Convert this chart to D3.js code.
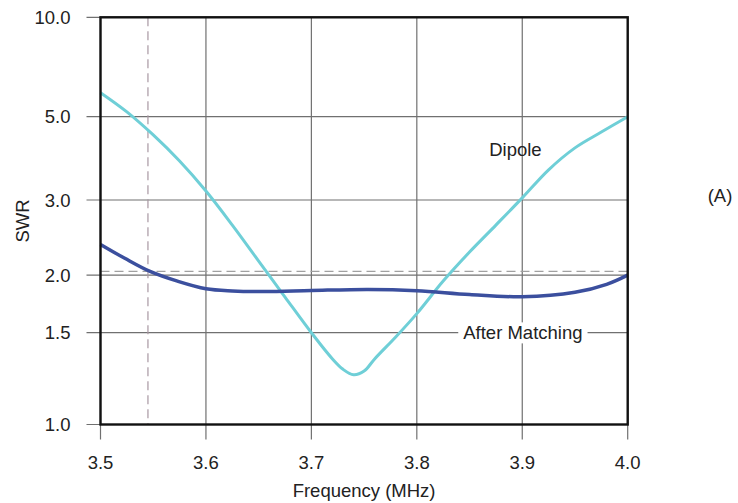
<!DOCTYPE html>
<html>
<head>
<meta charset="utf-8">
<script src="https://cdn.jsdelivr.net/npm/d3@7"></script>
<style>
  body { margin: 0; background: #fff; }
  text { font-family: "Liberation Sans", Arial, sans-serif; fill: #222; }
</style>
</head>
<body>
<div id="chart"></div>
<script>
// ---------------- data ----------------
var dipoleFreq = [3.500, 3.525, 3.550, 3.575, 3.600, 3.625, 3.650, 3.675, 3.700, 3.720, 3.730, 3.740,
                  3.750, 3.760, 3.780, 3.800, 3.825, 3.850, 3.875, 3.900, 3.925, 3.950, 3.975, 4.000];
var dipoleSwr  = [5.91, 5.17, 4.47, 3.81, 3.17, 2.62, 2.157, 1.792, 1.50, 1.336, 1.276, 1.246,
                  1.266, 1.336, 1.472, 1.65, 1.941, 2.265, 2.62, 3.04, 3.61, 4.13, 4.55, 5.0];

var matchFreq = [3.500, 3.523, 3.547, 3.573, 3.600, 3.625, 3.656, 3.700, 3.754, 3.800, 3.850, 3.900, 3.950, 3.980, 4.000];
var matchSwr  = [2.36, 2.19, 2.04, 1.94, 1.868, 1.848, 1.842, 1.852, 1.862, 1.85, 1.815, 1.795, 1.835, 1.91, 2.0];

var xTicks = [3.5, 3.6, 3.7, 3.8, 3.9, 4.0];
var yTicks = [1.0, 1.5, 2.0, 3.0, 5.0, 10.0];
// fraction of plot height for each y tick (chart uses an uneven SWR scale)
var yTickFrac = [0, 0.2254, 0.367, 0.5513, 0.7559, 1];

var markerFreq = 3.545;  // vertical dashed line
var markerSwr = 2.04;    // horizontal dashed line

// ---------------- canvas ----------------
var svgWidth = 738, svgHeight = 503;
var margin = {left: 100.5, top: 17.3, right: 110.3, bottom: 78.5};
var width = svgWidth - margin.left - margin.right,
    height = svgHeight - margin.top - margin.bottom;

var fontSize = "18.5px";

var svg = d3.select("#chart").append("svg")
    .attr("width", svgWidth)
    .attr("height", svgHeight);

var g = svg.append("g")
    .attr("transform", `translate(${margin.left}, ${margin.top})`);

// ---------------- scales ----------------
var x = d3.scaleLinear().domain([3.5, 4.0]).range([0, width]);
var y = d3.scaleLog()
    .domain(yTicks)
    .range(yTickFrac.map(f => height * (1 - f)));

// ---------------- grid ----------------
var gridColor = "#707070";

// horizontal grid + left tick stubs
g.selectAll(".hgrid").data(yTicks).enter().append("line")
    .attr("x1", -14).attr("x2", width)
    .attr("y1", d => y(d)).attr("y2", d => y(d))
    .attr("stroke", gridColor).attr("stroke-width", 1.2);

// vertical grid + bottom tick stubs
g.selectAll(".vgrid").data(xTicks).enter().append("line")
    .attr("x1", d => x(d)).attr("x2", d => x(d))
    .attr("y1", 0).attr("y2", height + 15)
    .attr("stroke", gridColor).attr("stroke-width", 1.2);

// dashed marker lines
g.append("line")
    .attr("x1", x(markerFreq)).attr("x2", x(markerFreq))
    .attr("y1", 0).attr("y2", height)
    .attr("stroke", "#a898a2").attr("stroke-width", 1.2)
    .attr("stroke-dasharray", "9,5");

g.append("line")
    .attr("x1", 0).attr("x2", width)
    .attr("y1", y(markerSwr)).attr("y2", y(markerSwr))
    .attr("stroke", "#a0a0a0").attr("stroke-width", 1.2)
    .attr("stroke-dasharray", "9,5");

// ---------------- tick labels ----------------
g.selectAll(".ylab").data(yTicks).enter().append("text")
    .attr("x", -30)
    .attr("y", d => y(d))
    .attr("dy", "0.36em")
    .attr("text-anchor", "end")
    .style("font-size", fontSize)
    .text(d => d.toFixed(1));

g.selectAll(".xlab").data(xTicks).enter().append("text")
    .attr("x", d => x(d))
    .attr("y", height + 45)
    .attr("text-anchor", "middle")
    .style("font-size", fontSize)
    .text(d => d.toFixed(1));

// ---------------- lines ----------------
var line = d3.line()
    .x(d => x(d[0]))
    .y(d => y(d[1]))
    .curve(d3.curveCatmullRom.alpha(0.5));

g.append("path")
    .datum(d3.zip(dipoleFreq, dipoleSwr))
    .attr("d", line)
    .attr("fill", "none")
    .attr("stroke", "#6fcfd7")
    .attr("stroke-width", 3);

g.append("path")
    .datum(d3.zip(matchFreq, matchSwr))
    .attr("d", line)
    .attr("fill", "none")
    .attr("stroke", "#3b4f9e")
    .attr("stroke-width", 3.5);

// ---------------- frame ----------------
g.append("rect")
    .attr("width", width).attr("height", height)
    .attr("fill", "none")
    .attr("stroke", "#111")
    .attr("stroke-width", 2.4);

// ---------------- labels ----------------
g.append("text")
    .attr("x", x(3.8935)).attr("y", y(4.1))
    .attr("dy", "0.36em")
    .attr("text-anchor", "middle")
    .style("font-size", fontSize)
    .text("Dipole");

var amLabel = g.append("text")
    .attr("x", x(3.9006)).attr("y", y(1.5))
    .attr("dy", "0.36em")
    .attr("text-anchor", "middle")
    .style("font-size", fontSize)
    .text("After Matching");
var bb = amLabel.node().getBBox();
g.insert("rect", "text")
    .attr("x", bb.x - 5).attr("y", bb.y)
    .attr("width", bb.width + 10).attr("height", bb.height)
    .attr("fill", "#fff");
amLabel.raise();

svg.append("text")
    .attr("x", 720).attr("y", 195)
    .attr("dy", "0.36em")
    .attr("text-anchor", "middle")
    .style("font-size", fontSize)
    .text("(A)");

svg.append("text")
    .attr("transform", "translate(22, 221) rotate(-90)")
    .attr("dy", "0.36em")
    .attr("text-anchor", "middle")
    .style("font-size", fontSize)
    .text("SWR");

svg.append("text")
    .attr("x", margin.left + x(3.75)).attr("y", 497)
    .attr("text-anchor", "middle")
    .style("font-size", fontSize)
    .text("Frequency (MHz)");
</script>
</body>
</html>
